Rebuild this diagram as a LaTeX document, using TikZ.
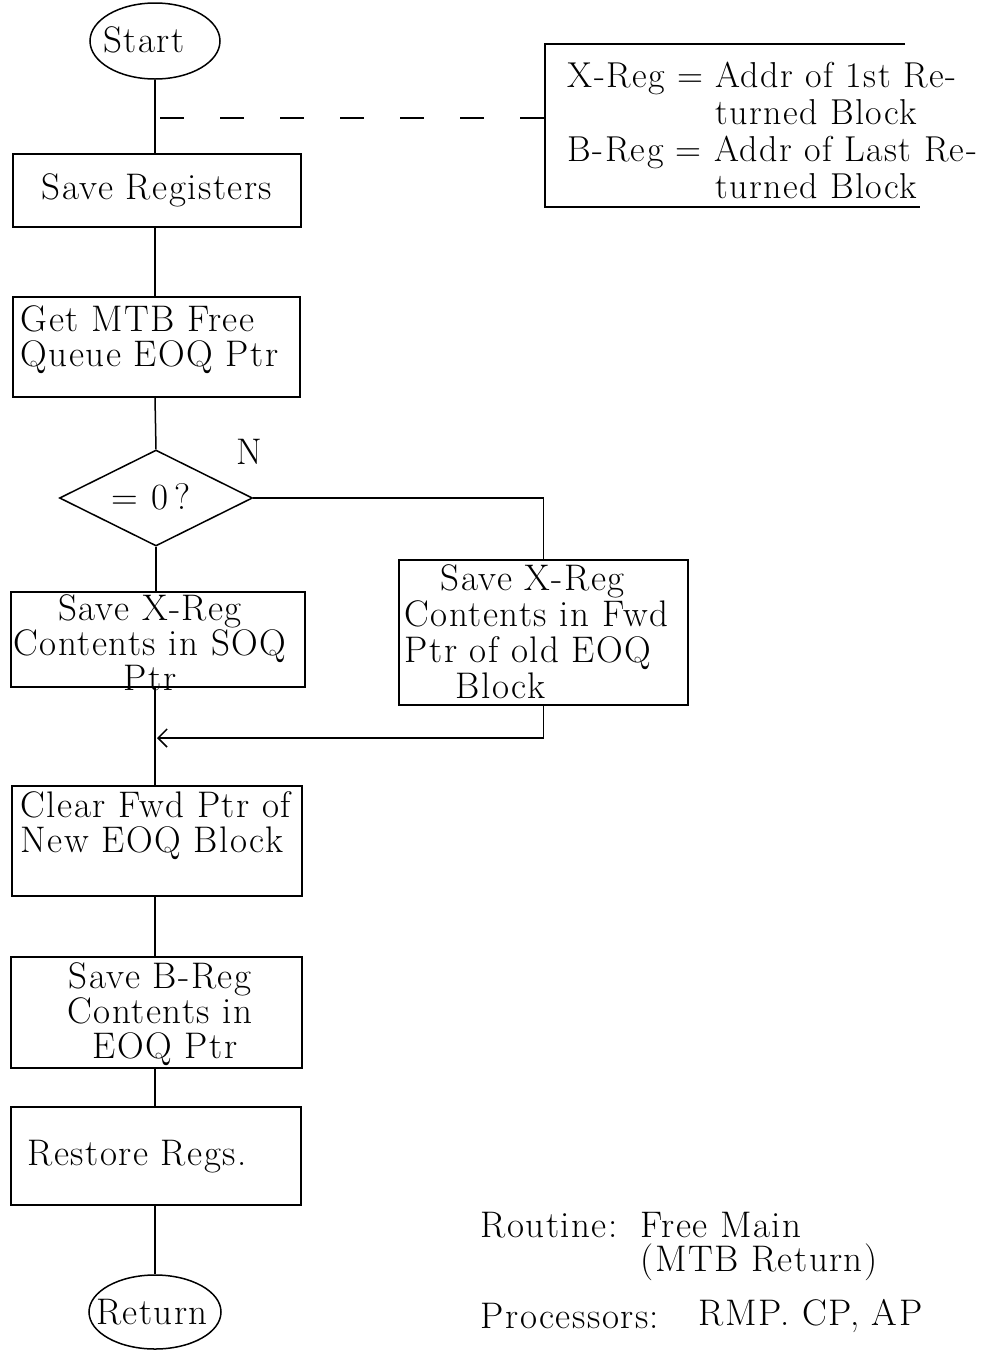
\documentclass[tikz,border=0pt]{standalone}
\usepackage{fontspec}
\setmainfont{Latin Modern Roman}[LetterSpace=4]
\usetikzlibrary{shapes.geometric,arrows.meta}
\begin{document}
\begin{tikzpicture}[x=1pt,y=-1pt,
  line width=1.5pt,
  txt/.style={inner sep=0pt, font=\fontsize{37}{35}\selectfont},
  box/.style={draw, rectangle, inner sep=0pt},
  term/.style={draw, ellipse, inner sep=0pt},
  decide/.style={draw, diamond, inner sep=0pt},
  flow/.style={draw},
  note/.style={dash pattern=on 24pt off 36pt},
  tip/.style={-{Straight Barb[length=9pt,width=18pt]}}
]
\useasboundingbox (0,0) rectangle (985,1350);

% terminals and boxes
\node[term, minimum width=130pt, minimum height=76pt] (start) at (155,41) {};
\node[txt] (starttxt) at (144,40) {Start};
\node[box, txt, minimum width=288pt, minimum height=73pt] (save) at (157,190.5) {Save Registers};
\node[box, minimum width=287pt, minimum height=100pt] (get) at (156.5,347) {};
\node[txt, align=left, anchor=west] (gettxt) at (20,340) {Get MTB Free\\Queue EOQ Ptr};
\node[decide, minimum width=193pt, minimum height=96pt] (dec) at (156,498) {};
\node[txt] (dectxt) at (151,497) {= 0\,?};
\node[txt] (n) at (249,452) {N};
\node[box, minimum width=294pt, minimum height=95pt] (soq) at (158,639.5) {};
\node[txt, align=center, font=\fontsize{37}{35}\selectfont] (soqtxt) at (150,643) {Save X-Reg\\Contents in SOQ\\Ptr};
\node[box, minimum width=289pt, minimum height=145pt] (fwd) at (543.5,632.5) {};
\node[txt, align=left, anchor=west, font=\fontsize{37}{36}\selectfont] (fwdtxt) at (404,632) {\hspace{36pt}Save X-Reg\\Contents in Fwd\\Ptr of old EOQ\\\hspace{51pt}Block};
\node[box, minimum width=290pt, minimum height=110pt] (clr) at (157,841) {};
\node[txt, align=left, anchor=west] (clrtxt) at (20,826) {Clear Fwd Ptr of\\New EOQ Block};
\node[box, minimum width=291pt, minimum height=111pt] (breg) at (156.5,1012.5) {};
\node[txt, align=center, font=\fontsize{37}{35}\selectfont] (bregtxt) at (160,1014) {Save B-Reg\\Contents in\\\hspace{10pt}EOQ Ptr};
\node[box, minimum width=290pt, minimum height=98pt] (rest) at (156,1156) {};
\node[txt, anchor=west] (resttxt) at (27,1157) {Restore Regs.};
\node[term, minimum width=132pt, minimum height=74pt] (ret) at (155,1312) {};
\node[txt] (rettxt) at (152,1312) {Return};

% annotation
\node[txt, align=left, anchor=west, font=\fontsize{36}{37}\selectfont] (ann) at (567,133.5)
  {X-Reg = Addr of 1st Re-\\\phantom{X-Reg = }turned Block\\B-Reg = Addr of Last Re-\\\phantom{X-Reg = }turned Block};
\draw (905,44) -- (545,44) -- (545,207) -- (920,207);
\coordinate (d0) at (160,118);
\coordinate (brk) at (545,118);
\draw[note] (d0) -- (brk);

% connectors
\coordinate (sp) at (155,0);
\draw[flow] (start.south) -- (start.south |- save.north);
\draw[flow] (sp |- save.south) -- (sp |- get.north);
\draw[flow] (sp |- get.south) -- (dec.north);
\draw[flow] (dec.east) -| (fwd.north);
\draw[flow] (dec.south) -- (dec.south |- soq.north);
\draw[flow] (sp |- soq.south) -- (sp |- clr.north);
\coordinate (join) at (157,738);
\draw[flow, tip] (fwd.south) |- (join);
\draw[flow] (sp |- clr.south) -- (sp |- breg.north);
\draw[flow] (sp |- breg.south) -- (sp |- rest.north);
\draw[flow] (sp |- rest.south) -- (ret.north);

% routine notes
\node[txt, anchor=west] (rt) at (480,1225) {Routine:};
\node[txt, anchor=west] (rtn) at (640,1225) {Free Main};
\node[txt, anchor=west] (rtm) at (640,1262) {(MTB Return)};
\node[txt, anchor=west] (pr) at (480,1316) {Processors:};
\node[txt, anchor=west] (prn) at (698,1316) {RMP. CP, AP};
\end{tikzpicture}
\end{document}
